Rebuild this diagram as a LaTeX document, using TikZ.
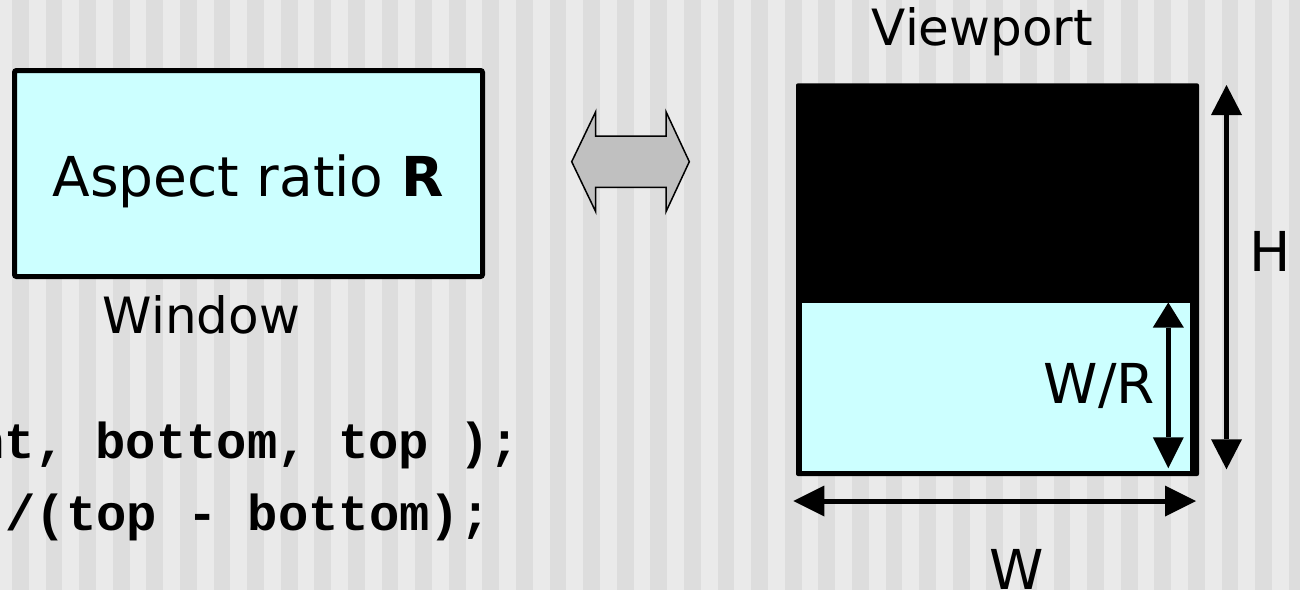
\documentclass[tikz,border=0pt]{standalone}
\usepackage{fontspec}
\setmainfont{DejaVu Sans}
\newfontfamily\codefont{Liberation Mono}
\usetikzlibrary{arrows.meta}
\definecolor{stripeLight}{HTML}{EAEAEA}
\definecolor{stripeDark}{HTML}{DDDDDD}
\definecolor{paleCyan}{HTML}{CCFFFF}
\definecolor{arrowGrey}{HTML}{C0C0C0}

\tikzset{
  big/.style={inner sep=0pt, font=\fontsize{55}{60}\selectfont},
  mid/.style={inner sep=0pt, font=\fontsize{50}{56}\selectfont},
  code/.style={inner sep=0pt, font=\codefont\bfseries\fontsize{50.5}{56}\selectfont},
  winbox/.style={draw=black, line width=5pt, fill=paleCyan, rounded corners=2pt,
    inner sep=0pt},
  dimline/.style={line width=5pt},
  tipA/.tip={Triangle[length=31pt,width=31pt,line width=0pt]},
  tipH/.tip={Triangle[length=30pt,width=31pt,line width=0pt]},
  tipS/.tip={Triangle[length=25pt,width=31pt,line width=0pt]},
}

\begin{document}
\begin{tikzpicture}[x=1pt,y=-1pt]
  \clip (0,0) rectangle (1300,590);
  \useasboundingbox (0,0) rectangle (1300,590);

  % striped backdrop
  \fill[stripeLight] (0,0) rectangle (1300,590);
  \foreach \k in {0,...,38}
    \fill[stripeDark] ({12+33.6*\k},0) rectangle ++(16.8,590);

  % window
  \node[winbox, minimum width=468pt, minimum height=206pt] (win) at (248.5,173.5) {};
  \node[big, anchor=base] (ratio) at (248,196) {Aspect ratio \textbf{R}};
  \node[mid, anchor=base] (winlabel) at (201.5,333.3) {Window};

  % code lines
  \node[code, anchor=base west] (code1) at (-25.75,458.5) {nt, bottom, top );};
  \node[code, anchor=base west] (code2) at (5.35,530.5) {/(top - bottom);};

  % two-headed block arrow
  \filldraw[fill=arrowGrey, draw=black, line width=1.5pt, line join=miter]
    (571.7,161.7) -- (595.7,111.7) -- (595.7,136) -- (666,136) -- (666,111.7)
    -- (689.3,161.7) -- (666,211.7) -- (666,187.3) -- (595.7,187.3)
    -- (595.7,211.7) -- cycle;

  % viewport
  \node[mid, anchor=base] (vplabel) at (982.5,45) {Viewport};
  \node[fill=black, rounded corners=2pt, inner sep=0pt,
        minimum width=403pt, minimum height=392.7pt] (vp) at (997.5,279.65) {};
  \node[fill=paleCyan, inner sep=0pt,
        minimum width=388.3pt, minimum height=168.3pt] (used) at (995.85,386.85) {};

  % dimension arrows
  \coordinate (hTop) at (1226.5,85);
  \coordinate (hBot) at (1226.5,469.3);
  \draw[dimline, tipH-tipH] (hTop) -- (hBot);
  \node[big, anchor=base] (hlabel) at (1270,271.7) {H};

  \coordinate (rTop) at (1168.3,302.5);
  \coordinate (rBot) at (1168.3,468.3);
  \draw[line width=4.7pt, tipS-tipA] (rTop) -- (rBot);
  \node[big, anchor=base] (rlabel) at (1099.2,403) {W/R};

  \coordinate (wLeft) at (793.3,501);
  \coordinate (wRight) at (1196,501);
  \draw[dimline, tipA-tipA] (wLeft) -- (wRight);
  \node[big, anchor=base] (wlabel) at (1016.7,589.3) {W};
\end{tikzpicture}
\end{document}
